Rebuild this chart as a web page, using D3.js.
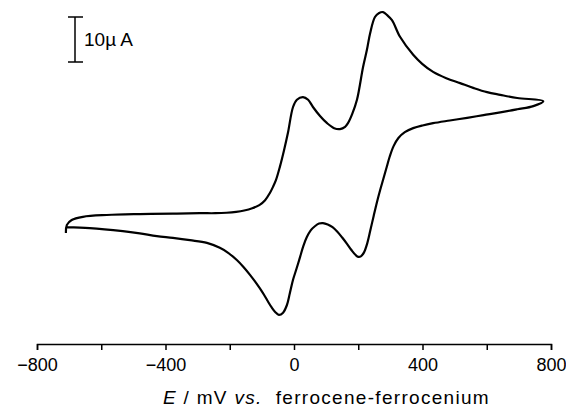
<!DOCTYPE html>
<html lang="en">
<head>
<meta charset="UTF-8">
<title>Cyclic voltammogram</title>
<script src="https://d3js.org/d3.v7.min.js"></script>
<style>
body { margin: 0; background: #fff; font-family: "Liberation Sans", Arial, sans-serif; }
.axis path, .axis line { stroke: #000; stroke-width: 1.5px; fill: none; }
.axis text { font-size: 18px; fill: #000; }
</style>
</head>
<body>
<script>
// forward (anodic) sweep, E in mV, I in microamps
var potentialFwd = [-710, -707, -692, -657, -583, -480, -377, -293, -245, -210, -180, -155, -130, -108, -90, -75, -65, -56, -44, -31, -19, -3, 9, 28, 44, 59, 81, 103, 125, 143, 159, 168, 181, 196, 215, 227, 237, 252, 265, 277, 290, 305, 330, 371, 399, 433, 474, 517, 560, 601, 642, 695, 776];
var currentFwd   = [-4.0, -2.2, -1.1, -0.4, 0, 0.2, 0.3, 0.4, 0.4, 0.5, 0.7, 1.0, 1.5, 2.2, 3.3, 4.9, 6.3, 7.8, 10.7, 14.4, 18.2, 24, 25.6, 26.2, 25.6, 24, 22, 20.4, 19.3, 19.1, 19.6, 20.4, 22.4, 25.6, 32.9, 36.7, 40.4, 44, 44.9, 45.1, 44.4, 43.3, 39.6, 35.6, 33.6, 31.8, 30.4, 29.3, 28.2, 27.3, 26.7, 26, 25.3];

// reverse (cathodic) sweep
var potentialRev = [776, 745, 695, 642, 590, 539, 485, 433, 400, 371, 345, 325, 310, 298, 288, 278, 268, 258, 248, 238, 228, 218, 208, 200, 192, 180, 165, 150, 135, 120, 105, 90, 78, 65, 52, 40, 29, 19, 8, -3, -13, -22, -34, -47, -58, -69, -83, -97, -117, -137, -158, -178, -205, -231, -271, -324, -377, -427, -480, -533, -636, -707];
var currentRev   = [25.3, 24.2, 23.5, 22.8, 22.2, 21.6, 21.0, 20.4, 19.9, 19.3, 18.4, 17.1, 15.3, 13.0, 10.5, 8.0, 5.5, 2.8, -0.2, -3.3, -6.3, -8.3, -9.2, -9.3, -8.9, -7.9, -6.4, -5.0, -3.7, -2.7, -2.1, -1.8, -1.9, -2.5, -3.4, -4.9, -6.9, -9.3, -11.9, -14.4, -17.4, -20.0, -21.7, -22.2, -21.6, -20.6, -19.0, -17.3, -15.2, -13.3, -11.5, -10.0, -8.4, -7.3, -6.2, -5.6, -5.1, -4.7, -4.1, -3.6, -2.9, -2.7];

var tickValues = [-800, -600, -400, -200, 0, 200, 400, 600, 800];
var labelledTicks = [-800, -400, 0, 400, 800];
var scaleBarCurrent = 10;

var width = 566, height = 410;

var svg = d3.select("body").append("svg")
    .attr("width", width)
    .attr("height", height);

var x = d3.scaleLinear()
    .domain([-800, 800])
    .range([37, 551]);

// 10 uA = 45 px
var y = d3.scaleLinear()
    .domain([0, 10])
    .range([215, 170]);

var fwd = potentialFwd.map(function(e, i) { return [e, currentFwd[i]]; });
var rev = potentialRev.map(function(e, i) { return [e, currentRev[i]]; });

var line = d3.line()
    .x(function(d) { return x(d[0]); })
    .y(function(d) { return y(d[1]); })
    .curve(d3.curveCatmullRom.alpha(0.5));

svg.append("path")
    .datum(fwd.concat(rev.slice(1)))
    .attr("d", line)
    .attr("fill", "none")
    .attr("stroke", "#000")
    .attr("stroke-width", 2.2)
    .attr("stroke-linejoin", "round");

// x axis
var xAxis = d3.axisBottom(x)
    .tickValues(tickValues)
    .tickSizeInner(6)
    .tickSizeOuter(6)
    .tickPadding(8)
    .tickFormat(function(d) { return labelledTicks.indexOf(d) >= 0 ? d3.format("")(d) : ""; });

svg.append("g")
    .attr("class", "x axis")
    .attr("transform", "translate(0,344)")
    .call(xAxis);

svg.append("text")
    .attr("x", 163)
    .attr("y", 404)
    .style("font-size", "19px")
    .style("letter-spacing", "1.3px")
    .html('<tspan font-style="italic">E</tspan> / mV <tspan font-style="italic">vs.</tspan>&#160; ferrocene-ferrocenium');

// scale bar
var bar = svg.append("g")
    .attr("transform", "translate(75," + (17 - y(scaleBarCurrent)) + ")");

bar.append("line")
    .attr("x1", 0).attr("x2", 0)
    .attr("y1", y(0)).attr("y2", y(scaleBarCurrent))
    .attr("stroke", "#000").attr("stroke-width", 1.5);

[0, scaleBarCurrent].forEach(function(v) {
    bar.append("line")
        .attr("x1", -7).attr("x2", 8)
        .attr("y1", y(v)).attr("y2", y(v))
        .attr("stroke", "#000").attr("stroke-width", 1.5);
});

bar.append("text")
    .attr("x", 9)
    .attr("y", y(scaleBarCurrent) + 29)
    .style("font-size", "19px")
    .text("10\u00b5 A");
</script>
</body>
</html>
